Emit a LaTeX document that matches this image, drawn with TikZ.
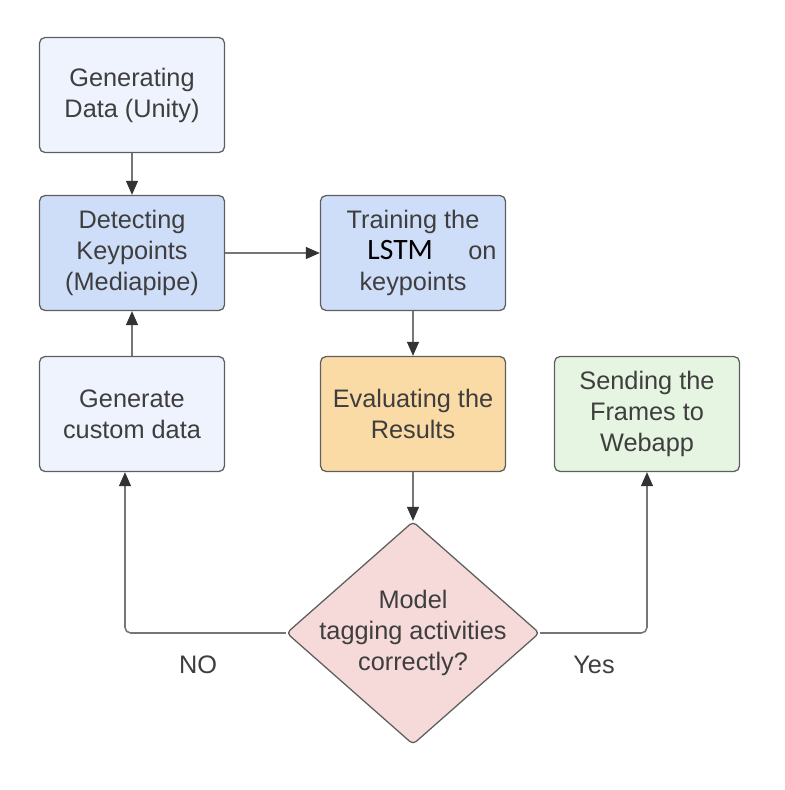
\documentclass[tikz,border=0pt]{standalone}
\usepackage{fontspec}
\setmainfont{Liberation Sans}
\newfontfamily\lstmfont{Carlito}
\usepackage{xcolor}
\usetikzlibrary{arrows.meta,shapes.geometric}

\definecolor{boxline}{HTML}{5E5E5E}
\definecolor{linegray}{HTML}{767676}
\definecolor{tipgray}{HTML}{333333}
\definecolor{txtgray}{HTML}{3E3E3E}
\definecolor{paleblue}{HTML}{EEF3FD}
\definecolor{midblue}{HTML}{CFDEF8}
\definecolor{evalorange}{HTML}{FADBA6}
\definecolor{sendgreen}{HTML}{E6F5E1}
\definecolor{decred}{HTML}{F6D9D9}

\begin{document}
\begin{tikzpicture}[x=0.025cm, y=-0.025cm, >={Triangle[length=10pt,width=8.5pt,color=tipgray]},
  box/.style={rectangle, rounded corners=4pt, draw=boxline, line width=0.9pt,
    minimum width=4.625cm, minimum height=2.875cm, inner sep=0pt,
    align=center, text=txtgray, font=\fontsize{18}{22}\selectfont},
  decision/.style={diamond, draw=boxline, fill=decred, line width=0.9pt,
    minimum width=6.325cm, minimum height=5.575cm, inner sep=0pt, rounded corners=3pt},
  txt/.style={align=center, text=txtgray, font=\fontsize{18}{22}\selectfont},
  link/.style={->, draw=linegray, line width=1.1pt}]

\useasboundingbox (0,0) rectangle (784,790);

\node[box, fill=paleblue] (gen) at (132,95) {Generating\\Data (Unity)};
\node[box, fill=midblue] (det) at (132,253) {Detecting\\Keypoints\\(Mediapipe)};
\node[box, fill=midblue] (train) at (413,253) {Training the\\\hspace*{1.5em}{\lstmfont\fontsize{21}{22}\selectfont\color{black}LSTM}\hspace{1.4em}on\\keypoints};
\node[box, fill=paleblue] (custom) at (132,414) {Generate\\custom data};
\node[box, fill=evalorange] (eval) at (413,414) {Evaluating the\\Results};
\node[box, fill=sendgreen] (send) at (647,414) {Sending the\\Frames to\\Webapp};

\node[decision] (dec) at (413,633) {};
\node[txt] (dectext) at (dec.center) {Model\\tagging activities\\correctly?};

\node[txt] (no) at (198,665) {NO};
\node[txt] (yes) at (594,665) {Yes};

\draw[link] (gen) -- (det);
\draw[link] (custom) -- (det);
\draw[link] (det) -- (train);
\draw[link] (train) -- (eval);
\draw[link] (eval) -- (dec);
\draw[link, rounded corners=4pt] (dec.west) -| ([xshift=-0.175cm]custom.south);
\draw[link, rounded corners=4pt] (dec.east) -| (send.south);

\end{tikzpicture}
\end{document}
